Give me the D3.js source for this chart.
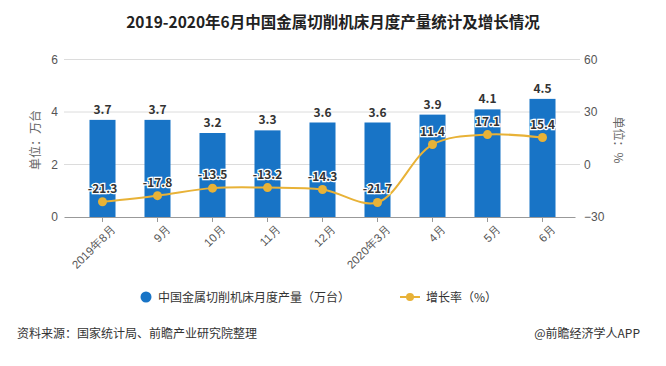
<!DOCTYPE html>
<html>
<head>
<meta charset="utf-8">
<script src="https://cdn.jsdelivr.net/npm/d3@7/dist/d3.min.js"></script>
<style>
    body { margin: 0; background: #fff; }
    svg { display: block; font-family: "Noto Sans CJK SC", "Noto Sans", sans-serif; }
</style>
</head>
<body>
<svg id="chart" width="666" height="366"></svg>
<script>
const months = ['2019年8月', '9月', '10月', '11月', '12月', '2020年3月', '4月', '5月', '6月'];
const output = [3.7, 3.7, 3.2, 3.3, 3.6, 3.6, 3.9, 4.1, 4.5];
const growth = [-21.3, -17.8, -13.5, -13.2, -14.3, -21.7, 11.4, 17.1, 15.4];
const leftTicks = [0, 2, 4, 6];
const rightTicks = [-30, 0, 30, 60];

const svg = d3.select('#chart');

const x = d3.scaleBand().domain(months).range([75, 570]).paddingInner(0.527).paddingOuter(0.2635);
const yL = d3.scaleLinear().domain([0, 6]).range([217, 59.5]);
const yR = d3.scaleLinear().domain([-30, 60]).range([217, 59.5]);

// title
svg.append('text')
    .attr('x', 333).attr('y', 28)
    .attr('text-anchor', 'middle')
    .attr('font-size', 15.5).attr('font-weight', 'bold').attr('fill', '#222')
    .text('2019-2020年6月中国金属切削机床月度产量统计及增长情况');

// grid lines
svg.append('g').selectAll('line')
    .data(leftTicks.slice(1))
    .join('line')
    .attr('x1', 64).attr('x2', 580)
    .attr('y1', d => yL(d)).attr('y2', d => yL(d))
    .attr('stroke', '#dcdcdc').attr('stroke-width', 1);

// left axis
const leftAxis = svg.append('g')
    .attr('transform', 'translate(64,0)')
    .call(d3.axisLeft(yL).tickValues(leftTicks).tickFormat(d3.format('d')).tickSize(0).tickPadding(6));
leftAxis.select('.domain').remove();
leftAxis.selectAll('text').attr('font-size', 12).attr('fill', '#555').attr('font-family', 'inherit');

// right axis
const rightAxis = svg.append('g')
    .attr('transform', 'translate(580,0)')
    .call(d3.axisRight(yR).tickValues(rightTicks).tickSize(0).tickPadding(4));
rightAxis.select('.domain').remove();
rightAxis.selectAll('text').attr('font-size', 12).attr('fill', '#555').attr('font-family', 'inherit');

// axis titles
svg.append('text')
    .attr('transform', 'translate(40,140) rotate(-90)')
    .attr('text-anchor', 'middle').attr('font-size', 12).attr('fill', '#666')
    .text('单位：万台');
svg.append('text')
    .attr('transform', 'translate(614,140) rotate(90)')
    .attr('text-anchor', 'middle').attr('font-size', 12).attr('fill', '#666')
    .text('单位：%');

// bars
svg.append('g').selectAll('rect')
    .data(output)
    .join('rect')
    .attr('x', (d, i) => x(months[i]))
    .attr('width', x.bandwidth())
    .attr('y', d => yL(d))
    .attr('height', d => yL(0) - yL(d))
    .attr('fill', '#1874c6');

svg.append('g').selectAll('text')
    .data(output)
    .join('text')
    .attr('x', (d, i) => x(months[i]) + x.bandwidth() / 2)
    .attr('y', d => yL(d) - 6)
    .attr('text-anchor', 'middle')
    .attr('font-size', 12).attr('font-weight', 'bold').attr('fill', '#333')
    .text(d => d.toFixed(1));

// x axis
const bottomAxis = svg.append('g')
    .attr('transform', `translate(0,${yL(0)})`)
    .call(d3.axisBottom(x).tickSize(5).tickSizeOuter(0));
bottomAxis.select('.domain').attr('stroke', '#999').attr('d', 'M64.5,0.5H575.5');
bottomAxis.selectAll('.tick line').attr('stroke', '#999');
bottomAxis.selectAll('text')
    .attr('font-size', 11.5).attr('fill', '#555').attr('font-family', 'inherit')
    .attr('text-anchor', 'end')
    .attr('transform', 'translate(5,4) rotate(-45)')
    .attr('dy', '0.4em').attr('dx', '0');

// growth line
const cx = (d, i) => x(months[i]) + x.bandwidth() / 2;
const line = d3.line()
    .x(cx)
    .y(d => yR(d))
    .curve(d3.curveCatmullRom.alpha(0.5));

svg.append('path')
    .datum(growth)
    .attr('d', line)
    .attr('fill', 'none')
    .attr('stroke', '#e8b237').attr('stroke-width', 2);

svg.append('g').selectAll('circle')
    .data(growth)
    .join('circle')
    .attr('cx', cx)
    .attr('cy', d => yR(d))
    .attr('r', 4.5)
    .attr('fill', '#e8b237');

svg.append('g').selectAll('text')
    .data(growth)
    .join('text')
    .attr('x', cx)
    .attr('y', d => yR(d) - 9)
    .attr('text-anchor', 'middle')
    .attr('font-size', 12).attr('font-weight', 'bold')
    .attr('fill', '#333')
    .attr('stroke', '#fff').attr('stroke-width', 2.5)
    .attr('paint-order', 'stroke')
    .text(d => d.toFixed(1));

// legend
const legend = svg.append('g');
legend.append('circle').attr('cx', 146).attr('cy', 297).attr('r', 5.5).attr('fill', '#1874c6');
legend.append('text').attr('x', 158).attr('y', 301.5)
    .attr('font-size', 12).attr('fill', '#333')
    .text('中国金属切削机床月度产量（万台）');
legend.append('line').attr('x1', 400).attr('x2', 420).attr('y1', 297).attr('y2', 297)
    .attr('stroke', '#e8b237').attr('stroke-width', 2);
legend.append('circle').attr('cx', 410).attr('cy', 297).attr('r', 4).attr('fill', '#e8b237');
legend.append('text').attr('x', 426).attr('y', 301.5)
    .attr('font-size', 12).attr('fill', '#333')
    .text('增长率（%）');

// source
svg.append('text').attr('x', 17).attr('y', 338)
    .attr('font-size', 12).attr('fill', '#333')
    .text('资料来源：国家统计局、前瞻产业研究院整理');
svg.append('text').attr('x', 640).attr('y', 338)
    .attr('text-anchor', 'end')
    .attr('font-size', 12).attr('fill', '#333')
    .text('@前瞻经济学人APP');
</script>
</body>
</html>
